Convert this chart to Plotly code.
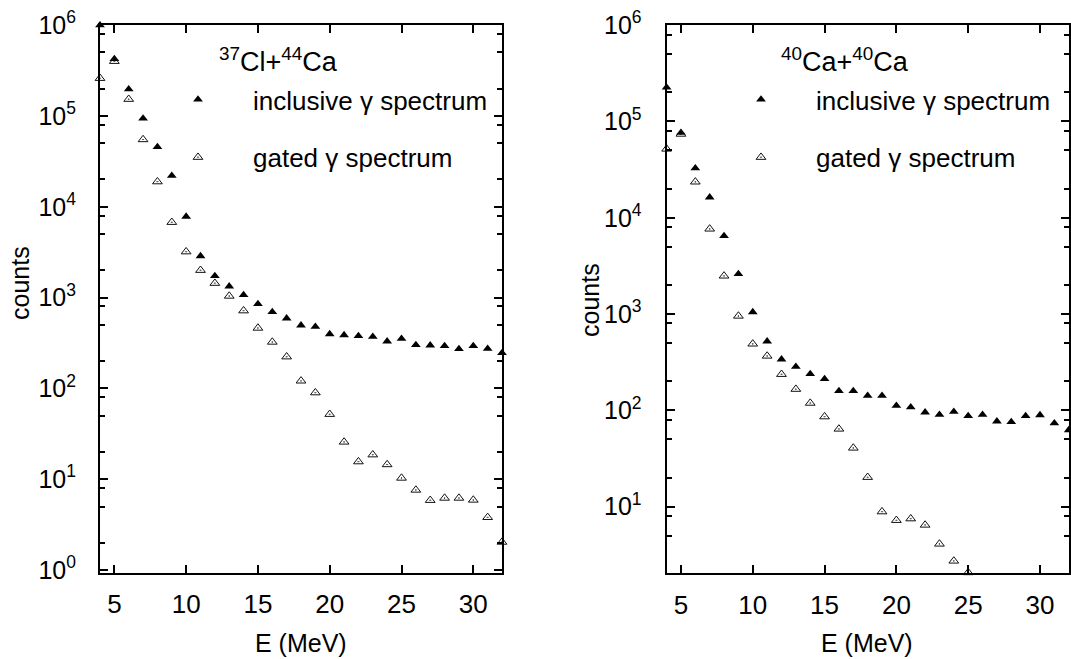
import plotly.graph_objects as go

# ---------------- data ----------------
energy = list(range(4, 33))  # MeV, 4..32

cl_ca_inclusive = [1.0e6, 4.25e5, 1.97e5, 9.4e4, 4.56e4, 2.2e4, 7.8e3, 2.87e3, 1.73e3, 1.33e3,
                   1.07e3, 850, 694, 592, 495, 478, 397, 387, 378, 371,
                   330, 353, 301, 298, 293, 272, 293, 274, 246]
cl_ca_gated = [2.6e5, 4.0e5, 1.53e5, 5.5e4, 1.89e4, 6.75e3, 3.2e3, 2.0e3, 1.44e3, 1.04e3,
               717, 462, 324, 223, 121, 89.7, 51.9, 25.7, 15.6, 18.6,
               14.5, 10.3, 7.6, 5.86, 6.2, 6.2, 5.9, 3.8, 2.03]

ca_ca_inclusive = [2.26e5, 7.65e4, 3.27e4, 1.63e4, 6.47e3, 2.61e3, 1.05e3, 522, 339, 284,
                   239, 212, 159, 159, 142, 142, 112, 108, 95.5, 90.2,
                   97, 87.5, 90.2, 77, 75.9, 87.5, 89.5, 73.5, 62.5]
ca_ca_energy_gated = list(range(4, 26))
ca_ca_gated = [5.18e4, 7.4e4, 2.36e4, 7.66e3, 2.49e3, 955, 490, 367, 237, 166,
               119, 86, 64.1, 40.7, 20.2, 8.87, 7.22, 7.5, 6.45, 4.1,
               2.73, 2.07]

x_tickvals = [5, 10, 15, 20, 25, 30]
y_exponents_left = [0, 1, 2, 3, 4, 5, 6]
y_exponents_right = [1, 2, 3, 4, 5, 6]

title_left = "<sup>37</sup>Cl+<sup>44</sup>Ca"
title_right = "<sup>40</sup>Ca+<sup>40</sup>Ca"
label_inclusive = "inclusive \u03b3 spectrum"
label_gated = "gated \u03b3 spectrum"

# ---------------- figure ----------------
W, H = 1071, 659
FONT = "Liberation Sans, Arial, Helvetica, sans-serif"

def px_x(p):
    return p / W

def px_y(p):
    return 1 - p / H

fig = go.Figure()

inc_marker = dict(symbol="triangle-up", size=8.5, color="black")
gat_marker = dict(symbol="triangle-up-open-dot", size=8.5, color="#111111", line=dict(width=1))

fig.add_trace(go.Scatter(x=energy, y=cl_ca_inclusive, mode="markers", marker=inc_marker,
                         name=label_inclusive, xaxis="x", yaxis="y", legend="legend",
                         legendgroup="a", cliponaxis=False))
fig.add_trace(go.Scatter(x=energy, y=cl_ca_gated, mode="markers", marker=gat_marker,
                         name=label_gated, xaxis="x", yaxis="y", legend="legend",
                         legendgroup="b", cliponaxis=False))
fig.add_trace(go.Scatter(x=energy, y=ca_ca_inclusive, mode="markers", marker=inc_marker,
                         name=label_inclusive, xaxis="x2", yaxis="y2", legend="legend2",
                         legendgroup="c", cliponaxis=False))
fig.add_trace(go.Scatter(x=ca_ca_energy_gated, y=ca_ca_gated, mode="markers", marker=gat_marker,
                         name=label_gated, xaxis="x2", yaxis="y2", legend="legend2",
                         legendgroup="d", cliponaxis=False))

def minor_vals(lo, hi):
    vals = []
    for e in range(lo, hi):
        for m in (2, 5, 8):
            vals.append(m * 10 ** e)
    return vals

axis_common = dict(showline=True, linecolor="black", linewidth=2, mirror="allticks",
                   ticks="inside", ticklen=8, tickwidth=1.5, tickcolor="black",
                   showgrid=False, zeroline=False, automargin=False)

xaxis_common = dict(axis_common, range=[4, 32], tickmode="array", tickvals=x_tickvals,
                    ticktext=[str(v) for v in x_tickvals],
                    tickfont=dict(family=FONT, size=26, color="black"), ticklabelstandoff=7)

y_top = 24.7
y_bot_left = 573
y_bot_right = 573.3

legend_common = dict(xanchor="left", yanchor="top", bgcolor="rgba(0,0,0,0)", borderwidth=0,
                     itemwidth=100, traceorder="grouped", tracegroupgap=21,
                     font=dict(family=FONT, size=26, color="black"))

fig.update_layout(
    width=W, height=H,
    margin=dict(l=0, r=0, t=0, b=0, pad=0, autoexpand=False),
    paper_bgcolor="white", plot_bgcolor="white",
    font=dict(family=FONT, color="black"),
    xaxis=dict(xaxis_common, domain=[px_x(100), px_x(502)], anchor="y"),
    xaxis2=dict(xaxis_common, domain=[px_x(666.6), px_x(1068.7)], anchor="y2"),
    yaxis=dict(axis_common, type="log", range=[-0.033, 6.005],
               domain=[px_y(y_bot_left), px_y(y_top)], anchor="x",
               tickmode="array", tickvals=[10 ** e for e in y_exponents_left],
               ticktext=["10<sup>%d</sup>" % e for e in y_exponents_left],
               tickfont=dict(family=FONT, size=25, color="black"), ticklabelstandoff=17,
               minor=dict(tickmode="array", tickvals=minor_vals(-1, 6), ticks="inside",
                          ticklen=5, tickwidth=1.5, tickcolor="black", showgrid=False)),
    yaxis2=dict(axis_common, type="log", range=[0.308, 6.005],
                domain=[px_y(y_bot_right), px_y(y_top)], anchor="x2",
                tickmode="array", tickvals=[10 ** e for e in y_exponents_right],
                ticktext=["10<sup>%d</sup>" % e for e in y_exponents_right],
                tickfont=dict(family=FONT, size=25, color="black"), ticklabelstandoff=18,
                minor=dict(tickmode="array", tickvals=minor_vals(0, 6), ticks="inside",
                           ticklen=5, tickwidth=1.5, tickcolor="black", showgrid=False)),
    legend=dict(legend_common, x=px_x(143), y=px_y(76)),
    legend2=dict(legend_common, x=px_x(706), y=px_y(76)),
    showlegend=True,
)

def ann(text, x, y, size=26, angle=0):
    return dict(text=text, x=px_x(x), y=px_y(y), xref="paper", yref="paper",
                xanchor="center", yanchor="middle", textangle=angle, showarrow=False,
                font=dict(family=FONT, size=size, color="black"))

fig.update_layout(annotations=[
    ann(title_left, 278, 60, 27),
    ann(title_right, 845, 60, 27),
    ann("counts", 20, 283, 25, -90),
    ann("counts", 590, 300, 25, -90),
    ann("E (MeV)", 301, 643, 25),
    ann("E (MeV)", 867, 643, 25),
])

fig.write_html("out.html", config={"displayModeBar": False},
               post_script="document.body.style.margin='0px';document.body.style.overflow='hidden';")
